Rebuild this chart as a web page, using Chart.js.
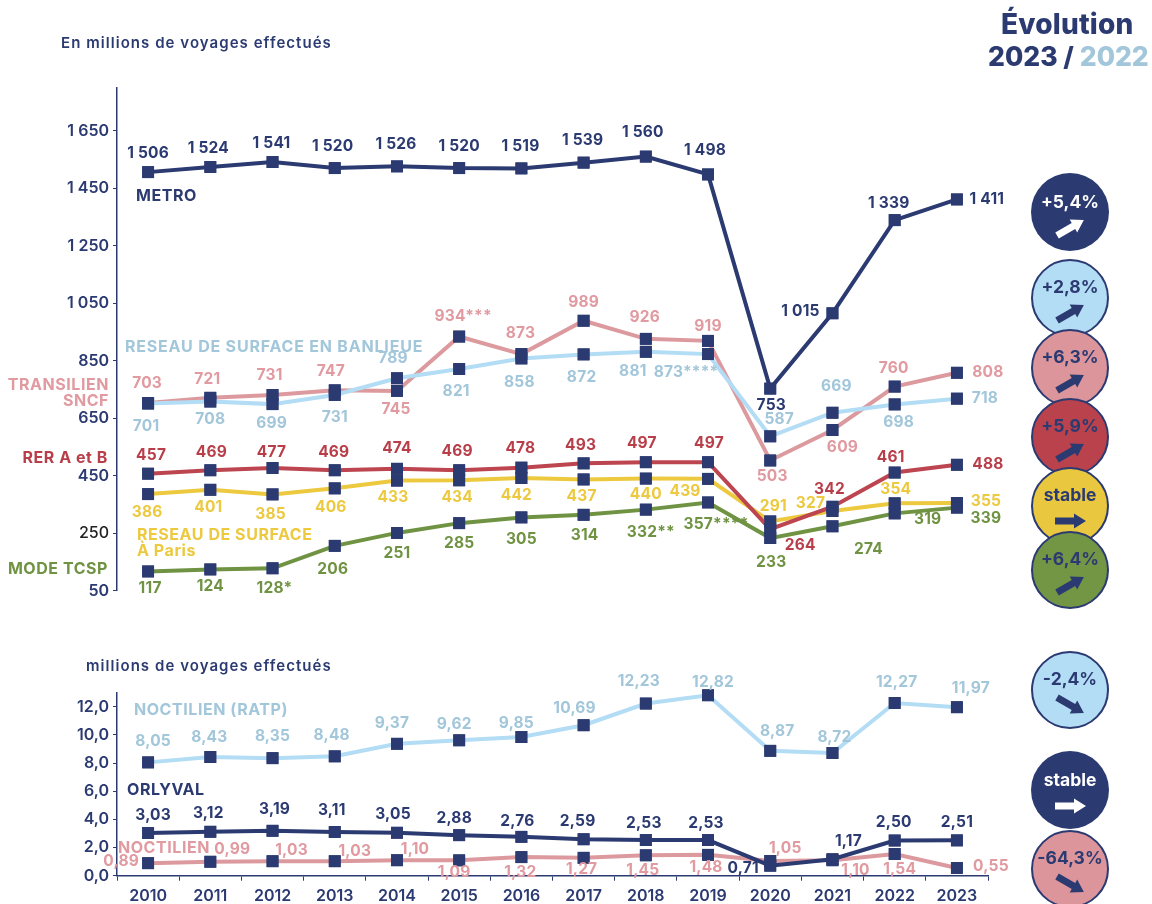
<!DOCTYPE html>
<html lang="fr">
<head>
<meta charset="utf-8">
<title>Évolution 2023 / 2022</title>
<script src="https://cdn.jsdelivr.net/npm/chart.js@4"></script>
<style>
html,body{margin:0;padding:0;background:#fff;width:1152px;height:904px;overflow:hidden;font-family:Inter,sans-serif;color:#2b3a71}
canvas{position:absolute;left:0}
#top{top:0}
#bottom{top:640px}
.t{position:absolute;white-space:nowrap;font-weight:700;line-height:1;transform:translateY(-50%);font-size:16px;letter-spacing:.55px}
.r{transform:translate(-100%,-50%);text-align:right}
.badge{position:absolute;width:78px;height:78px;margin:-39px 0 0 -39px;border-radius:50%;box-sizing:border-box;border:2.5px solid #2b3a71;color:#2b3a71}
.badge span{position:absolute;left:-4px;right:-4px;top:16px;text-align:center;font-weight:700;font-size:17.5px;line-height:20px}
.badge svg{position:absolute;left:17px;top:38px;width:40px;height:28px;overflow:visible}
.dark{background:#2b3a71;color:#fff;border:0}
.dark span{top:19px;left:0;right:0}
.dark svg{left:19px;top:41px}
</style>
</head>
<body>
<canvas id="top" width="1152" height="620"></canvas>
<canvas id="bottom" width="1152" height="264"></canvas>

<div class="t" style="left:61px;top:42px;font-size:15px;font-weight:600;letter-spacing:1.05px">En millions de voyages effectués</div>
<div class="t" style="left:86px;top:665px;font-size:15px;font-weight:600;letter-spacing:1.05px">millions de voyages effectués</div>
<div class="t" style="left:1001px;top:24px;font-size:28px;font-weight:800;letter-spacing:.2px">Évolution</div>
<div class="t" style="left:988px;top:56px;font-size:26.5px;font-weight:800;letter-spacing:0">2023 / <span style="color:#a2c6da">2022</span></div>

<div class="t" style="left:136px;top:195px">METRO</div>
<div class="t" style="left:125px;top:346px;color:#a2c6da;letter-spacing:.8px">RESEAU DE SURFACE EN BANLIEUE</div>
<div class="t r" style="left:109px;top:384px;color:#e09aa0">TRANSILIEN</div>
<div class="t r" style="left:109px;top:400px;color:#e09aa0">SNCF</div>
<div class="t r" style="left:108px;top:457px;color:#b83f4a">RER A et B</div>
<div class="t" style="left:137px;top:534px;color:#ecc93f">RESEAU DE SURFACE</div>
<div class="t" style="left:137px;top:550px;color:#ecc93f">À Paris</div>
<div class="t r" style="left:108px;top:568px;color:#6f9342">MODE TCSP</div>
<div class="t" style="left:134px;top:709px;color:#a2c6da">NOCTILIEN (RATP)</div>
<div class="t" style="left:127px;top:789px">ORLYVAL</div>
<div class="t" style="left:118px;top:847px;color:#e09aa0">NOCTILIEN</div>

<div id="badges"></div>

<script>
const years = ["2010","2011","2012","2013","2014","2015","2016","2017","2018","2019","2020","2021","2022","2023"];

const metro = [1506,1524,1541,1520,1526,1520,1519,1539,1560,1498,753,1015,1339,1411];
const banlieue = [701,708,699,731,789,821,858,872,881,873,587,669,698,718];
const transilien = [703,721,731,747,745,934,873,989,926,919,503,609,760,808];
const rer = [457,469,477,469,474,469,478,493,497,497,264,342,461,488];
const paris = [386,401,385,406,433,434,442,437,440,439,291,327,354,355];
const tcsp = [117,124,128,206,251,285,305,314,332,357,233,274,319,339];

const ratp = [8.05,8.43,8.35,8.48,9.37,9.62,9.85,10.69,12.23,12.82,8.87,8.72,12.27,11.97];
const orlyval = [3.03,3.12,3.19,3.11,3.05,2.88,2.76,2.59,2.53,2.53,0.71,1.17,2.50,2.51];
const noctilien = [0.89,0.99,1.03,1.03,1.10,1.09,1.32,1.27,1.45,1.48,1.05,1.10,1.54,0.55];

const topTicks = [50,250,450,650,850,1050,1250,1450,1650];
const topTickLabels = ["50","250","450","650","850","1 050","1 250","1 450","1 650"];
const bottomTicks = [0,2,4,6,8,10,12];
const bottomTickLabels = ["0,0","2,0","4,0","6,0","8,0","10,0","12,0"];

const metroLabels = ["1 506","1 524","1 541","1 520","1 526","1 520","1 519","1 539","1 560","1 498","753","1 015","1 339","1 411"];
const banlieueLabels = ["701","708","699","731","789","821","858","872","881","873****","587","669","698","718"];
const transilienLabels = ["703","721","731","747","745","934***","873","989","926","919","503","609","760","808"];
const rerLabels = ["457","469","477","469","474","469","478","493","497","497","264","342","461","488"];
const parisLabels = ["386","401","385","406","433","434","442","437","440","439","291","327","354","355"];
const tcspLabels = ["117","124","128*","206","251","285","305","314","332**","357****","233","274","319","339"];
const fr = a => a.map(v => v.toFixed(2).replace(".", ","));

/* label placement relative to each marker, kept apart from the values */
const metroOff = [[0,-19],[-2,-19],[-1,-19],[-2,-22],[-1,-22],[0,-22],[-1,-22],[-1,-22],[-3,-24],[-3,-24],[1,17],[-32,-2],[-6,-17],[30,0]];
const banlieueOff = [[-2,23],[0,18],[-1,19],[0,22],[-4,-20],[-3,22],[-2,24],[-2,23],[-13,20],[-22,18],[9,-17],[4,-26],[4,18],[28,0]];
const transilienOff = [[-1,-20],[-3,-18],[-3,-20],[-4,-19],[-1,18],[4,-20],[-1,-21],[0,-18],[-1,-22],[0,-15],[2,16],[10,17],[-1,-18],[31,0]];
const rerOff = [[3,-18],[1,-18],[-1,-16],[-1,-18],[0,-20],[-2,-19],[-1,-19],[-3,-18],[-4,-19],[1,-19],[30,16],[-3,-17],[-4,-15],[31,0]];
const parisOff = [[-1,18],[-2,18],[-2,20],[-4,19],[-4,17],[-2,17],[-5,17],[-2,17],[0,16],[-23,12],[3,-15],[-22,-8],[1,-14],[29,-2]];
const tcspOff = [[2,17],[0,17],[2,20],[-2,23],[0,20],[0,20],[0,22],[1,21],[5,23],[8,22],[1,24],[36,23],[33,6],[29,11]];
const ratpOff = [[5,-21],[-1,-20],[0,-22],[-3,-21],[-5,-20],[-5,-16],[-5,-14],[-9,-17],[-7,-22],[5,-13],[7,-19],[2,-16],[2,-21],[14,-19]];
const orlyvalOff = [[5,-18],[-2,-18],[2,-21],[-3,-22],[-4,-18],[-5,-17],[-4,-16],[-6,-18],[-2,-17],[-2,-17],[-27,3],[16,-18],[-1,-18],[0,-18]];
const noctilienOff = [[-27,-2],[22,-12],[19,-11],[20,-10],[18,-11],[-5,12],[-1,15],[-2,12],[-3,15],[-2,12],[15,-13],[23,10],[5,15],[34,-2]];

const navy = "#2b3a71", blueLine = "#b3dcf5", blueText = "#a2c6da", pinkLine = "#dc9a9f", pinkText = "#e09aa0",
      redLine = "#bc4550", redText = "#b83f4a", yellow = "#ecc93f", green = "#6f9342";

function series(name, data, line, text, labels, off) {
  return {label:name, data, borderColor:line, backgroundColor:line, borderWidth:4, tension:0, clip:false,
    pointStyle:"rect", pointRadius:8.4, pointHoverRadius:8.4, pointBackgroundColor:navy, pointBorderColor:navy, pointBorderWidth:0,
    valueLabels:labels, valueOffsets:off, textColor:text};
}

const valueLabelPlugin = {
  id:"valueLabels",
  afterDatasetsDraw(chart){
    const ctx = chart.ctx;
    chart.data.datasets.forEach((ds,i)=>{
      chart.getDatasetMeta(i).data.forEach(p=>p.draw(ctx));
    });
    ctx.save();
    ctx.font = "700 15.5px Inter";
    ctx.letterSpacing = "0.2px";
    ctx.textAlign = "center";
    ctx.textBaseline = "middle";
    chart.data.datasets.forEach((ds,i)=>{
      ctx.fillStyle = ds.textColor;
      chart.getDatasetMeta(i).data.forEach((p,j)=>{
        const o = ds.valueOffsets[j];
        ctx.fillText(ds.valueLabels[j], p.x+o[0], p.y+o[1]);
      });
    });
    ctx.restore();
  }
};

function yAxis(min,max,ticks,labels,odd){
  const isOdd = c => !!c.tick && c.tick.value===odd;
  return {
    type:"linear", min, max,
    afterBuildTicks(s){ s.ticks = ticks.map(v=>({value:v})); },
    afterFit(s){ s.width = 117; },
    border:{color:navy,width:1.5},
    grid:{drawOnChartArea:false,color:navy,tickLength:4,lineWidth:1},
    ticks:{
      autoSkip:false, padding:4,
      callback:(v,i)=>labels[i],
      color:c=>isOdd(c)?"#222":navy,
      font:c=>({family:"Inter",size:16,weight:isOdd(c)?"500":"600"})
    }
  };
}

Chart.defaults.animation = false;

new Chart(document.getElementById("top"),{
  type:"line",
  data:{labels:years,datasets:[
    series("METRO",metro,navy,navy,metroLabels,metroOff),
    series("RESEAU DE SURFACE EN BANLIEUE",banlieue,blueLine,blueText,banlieueLabels,banlieueOff),
    series("TRANSILIEN SNCF",transilien,pinkLine,pinkText,transilienLabels,transilienOff),
    series("RER A et B",rer,redLine,redText,rerLabels,rerOff),
    series("RESEAU DE SURFACE À Paris",paris,yellow,yellow,parisLabels,parisOff),
    series("MODE TCSP",tcsp,green,green,tcspLabels,tcspOff)
  ]},
  plugins:[valueLabelPlugin],
  options:{
    responsive:false,
    events:[],
    layout:{padding:{left:0,right:164,top:87.6,bottom:29.3}},
    plugins:{legend:{display:false},tooltip:{enabled:false}},
    scales:{
      x:{type:"category",offset:true,display:false,grid:{offset:true}},
      y:yAxis(50,1800,topTicks,topTickLabels,250)
    }
  }
});

new Chart(document.getElementById("bottom"),{
  type:"line",
  data:{labels:years,datasets:[
    series("NOCTILIEN (RATP)",ratp,blueLine,blueText,fr(ratp),ratpOff),
    series("ORLYVAL",orlyval,navy,navy,fr(orlyval),orlyvalOff),
    series("NOCTILIEN",noctilien,pinkLine,pinkText,fr(noctilien),noctilienOff)
  ]},
  plugins:[valueLabelPlugin],
  options:{
    responsive:false,
    events:[],
    layout:{padding:{left:0,right:164,top:52.7,bottom:0}},
    plugins:{legend:{display:false},tooltip:{enabled:false}},
    scales:{
      x:{type:"category",offset:true,
        afterFit(s){ s.height = 28.3; },
        border:{color:navy,width:1.5},
        grid:{offset:true,drawOnChartArea:false,color:navy,tickLength:5},
        ticks:{color:navy,padding:6,maxRotation:0,autoSkip:false,font:{family:"Inter",size:16,weight:"600"}}
      },
      y:yAxis(0,13,bottomTicks,bottomTickLabels,null)
    }
  }
});

/* evolution badges */
const badgeTexts = ["+5,4%","+2,8%","+6,3%","+5,9%","stable","+6,4%","-2,4%","stable","-64,3%"];
const badgeCentersY = [212,298,368,437,506,570,690,790,869];
const badgeColors = [navy,"#b3dcf5","#db959b","#b9424c","#e9c840","#739645","#b3dcf5",navy,"#db959b"];
const badgeAngles = [-30,-30,-30,-30,0,-30,30,0,30];
const holder = document.getElementById("badges");
badgeTexts.forEach((t,i)=>{
  const dark = badgeColors[i]===navy;
  const d = document.createElement("div");
  d.className = "badge"+(dark?" dark":"");
  d.style.left = "1070px";
  d.style.top = badgeCentersY[i]+"px";
  d.style.background = badgeColors[i];
  const fill = dark?"#fff":navy;
  d.innerHTML = `<span>${t}</span><svg viewBox="0 0 40 28"><polygon transform="rotate(${badgeAngles[i]} 20 14)" fill="${fill}" points="5,10.5 24,10.5 24,6.5 36,14 24,21.5 24,17.5 5,17.5"/></svg>`;
  holder.appendChild(d);
});
</script>
</body>
</html>
